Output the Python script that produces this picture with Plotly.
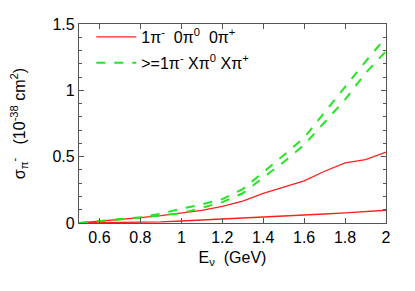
import plotly.graph_objects as go

energy = [0.5, 0.6, 0.7, 0.8, 0.9, 1.0, 1.1, 1.2, 1.3, 1.4, 1.5, 1.6, 1.7, 1.8, 1.9, 2.0]

# 1pi- 0pi0 0pi+ (two curves)
red_upper = [0.0, 0.012, 0.025, 0.04, 0.055, 0.076, 0.095, 0.125, 0.165, 0.224, 0.272, 0.318, 0.39, 0.453, 0.478, 0.534]
red_lower = [0.0, 0.001, 0.003, 0.005, 0.009, 0.015, 0.022, 0.03, 0.036, 0.043, 0.05, 0.058, 0.068, 0.077, 0.086, 0.096]

# >=1pi- Xpi0 Xpi+ (two curves)
green_upper = [0.0, 0.014, 0.028, 0.044, 0.07, 0.108, 0.14, 0.18, 0.256, 0.38, 0.51, 0.643, 0.835, 1.02, 1.217, 1.40]
green_lower = [0.0, 0.012, 0.025, 0.04, 0.058, 0.072, 0.115, 0.157, 0.224, 0.34, 0.46, 0.589, 0.76, 0.93, 1.13, 1.295]

FONT = "Liberation Sans, Arial"

fig = go.Figure()
fig.add_trace(go.Scatter(x=energy, y=red_upper, mode="lines", line=dict(color="#ff2020", width=1.3),
                         name="1π<sup>-</sup>  0π<sup>0</sup>  0π<sup>+</sup>", legendgroup="r"))
fig.add_trace(go.Scatter(x=energy, y=red_lower, mode="lines", line=dict(color="#ff2020", width=1.3),
                         showlegend=False, legendgroup="r"))
fig.add_trace(go.Scatter(x=energy, y=green_upper, mode="lines", line=dict(color="#22e622", width=2, dash="dash"),
                         name="&gt;=1π<sup>-</sup> Xπ<sup>0</sup> Xπ<sup>+</sup>", legendgroup="g"))
fig.add_trace(go.Scatter(x=energy, y=green_lower, mode="lines", line=dict(color="#22e622", width=2, dash="dash"),
                         showlegend=False, legendgroup="g"))

axis_common = dict(showgrid=False, zeroline=False, showline=True, linecolor="#555", linewidth=1.2,
                   mirror="allticks", ticks="inside", ticklen=5, tickcolor="#555", automargin=False,
                   tickfont=dict(family=FONT, size=16, color="black"))

fig.update_xaxes(range=[0.5, 2.0], tickvals=[0.6, 0.8, 1, 1.2, 1.4, 1.6, 1.8, 2],
                 ticktext=["0.6", "0.8", "1", "1.2", "1.4", "1.6", "1.8", "2"],
                 title=dict(text="E<sub>ν</sub>  (GeV)", font=dict(family=FONT, size=16, color="black"),
                            standoff=6),
                 **axis_common)
fig.update_yaxes(range=[0, 1.5], tickvals=[0, 0.5, 1, 1.5], ticktext=["0", "0.5", "1", "1.5"],
                 minor=dict(dtick=0.1, ticks="inside", ticklen=3, tickcolor="#555"),
                 title=dict(text="σ<sub>π</sub><sup>-</sup>   (10<sup>-38</sup> cm<sup>2</sup>)",
                            font=dict(family=FONT, size=16, color="black"), standoff=28),
                 **axis_common)

fig.update_layout(
    width=407, height=283,
    margin=dict(l=71, r=29, t=12, b=68),
    paper_bgcolor="white", plot_bgcolor="white",
    font=dict(family=FONT, size=16, color="black"),
    legend=dict(x=0.04, y=1.02, xanchor="left", yanchor="top", bgcolor="rgba(0,0,0,0)",
                font=dict(size=16), itemwidth=40, tracegroupgap=2),
    showlegend=True,
)

fig.write_html("out.html")
